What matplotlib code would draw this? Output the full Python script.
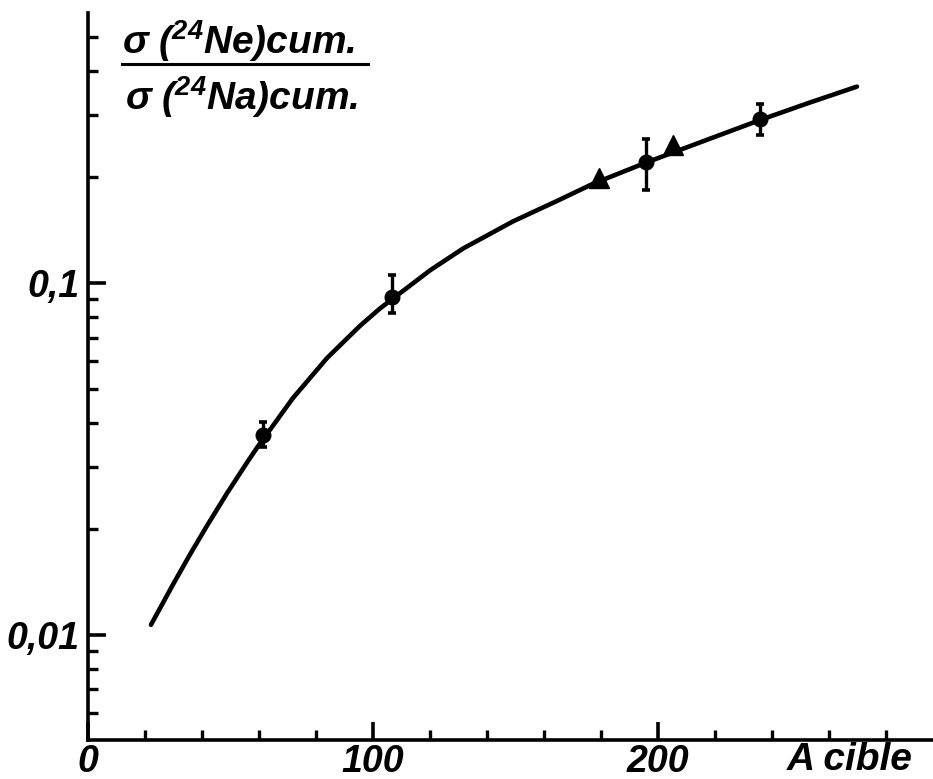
import matplotlib
matplotlib.use('Agg')
import matplotlib.pyplot as plt
from matplotlib.lines import Line2D
from matplotlib.ticker import NullFormatter

FONT = ['Liberation Sans', 'DejaVu Sans']
plt.rcParams['font.family'] = FONT
plt.rcParams['mathtext.fontset'] = 'custom'
plt.rcParams['mathtext.rm'] = 'Liberation Sans:italic:bold'
plt.rcParams['mathtext.it'] = 'Liberation Sans:italic:bold'

# fitted curve
curve_a = [22.1, 29.8, 35.8, 41.8, 48.8, 55.8, 59.3, 71.9, 83.9, 95.4, 102.5,
           120.0, 131.6, 149.1, 165.6, 177.2, 195.8, 218.2, 235.8, 252.3, 269.8]
curve_v = [0.01069, 0.01390, 0.01694, 0.02046, 0.02529, 0.03090, 0.03404,
           0.04710, 0.06124, 0.07551, 0.08472, 0.1086, 0.1253, 0.1496, 0.1726,
           0.1914, 0.2198, 0.2570, 0.2904, 0.3236, 0.3614]

# measured points with error bars (circles)
circ_a = [61.4, 106.7, 195.8, 235.8]
circ_v = [0.0370, 0.0913, 0.221, 0.292]
circ_lo = [0.0342, 0.0822, 0.184, 0.263]
circ_hi = [0.0403, 0.1054, 0.257, 0.322]

# triangles
tri_a = [179.3, 205.3]
tri_v = [0.199, 0.247]

fig = plt.figure(figsize=(9.33, 7.79), dpi=100)
ax = fig.add_axes([88 / 933, 39 / 779, 845 / 933, 727 / 779])

ax.plot(curve_a, curve_v, color='k', lw=3.3, solid_capstyle='round',
        solid_joinstyle='round', zorder=2)

yerr = [[v - lo for v, lo in zip(circ_v, circ_lo)],
        [hi - v for v, hi in zip(circ_v, circ_hi)]]
ax.errorbar(circ_a, circ_v, yerr=yerr, fmt='o', color='k', ms=10.5,
            elinewidth=2.4, capsize=3, capthick=2.6, zorder=3)
ax.plot(tri_a, tri_v, '^', color='k', ms=15, zorder=3)

ax.set_yscale('log')
ax.set_xlim(0, 296.5)
ax.set_ylim(0.00503, 0.585)

for s in ['top', 'right']:
    ax.spines[s].set_visible(False)
for s in ['left', 'bottom']:
    ax.spines[s].set_linewidth(2.6)

ax.set_xticks([0, 100, 200], ['0', '100', '200'])
ax.set_xticks(range(20, 300, 20), minor=True)
ax.set_yticks([0.01, 0.1], ['0,01', '0,1'])
ax.set_yticks([0.006, 0.007, 0.008, 0.009,
               0.02, 0.03, 0.04, 0.05, 0.06, 0.07, 0.08, 0.09,
               0.2, 0.3, 0.4, 0.5], minor=True)
ax.yaxis.set_minor_formatter(NullFormatter())
ax.tick_params(which='major', direction='in', length=13, width=2.6,
               labelsize=27)
ax.tick_params(axis='x', which='major', pad=3)
ax.tick_params(axis='y', which='major', pad=6)
ax.tick_params(which='minor', direction='in', length=7, width=2.4)
for lab in ax.get_xticklabels() + ax.get_yticklabels():
    lab.set_fontstyle('italic')
    lab.set_fontweight('bold')

tstyle = dict(fontsize=28, fontstyle='italic', fontweight='bold', color='k')
fig.text(122 / 933, 1 - 54 / 779, 'σ ($^{24}$Ne)cum.', ha='left', va='baseline', **tstyle)
fig.text(125 / 933, 1 - 110 / 779, 'σ ($^{24}$Na)cum.', ha='left', va='baseline', **tstyle)
fig.add_artist(Line2D([122 / 933, 368 / 933], [1 - 64 / 779, 1 - 64 / 779],
                      color='k', lw=2.2))

fig.text(913 / 933, 1 - 770 / 779, 'A cible', ha='right', va='baseline', **tstyle)

fig.savefig('out.png', dpi=100, facecolor='white')
